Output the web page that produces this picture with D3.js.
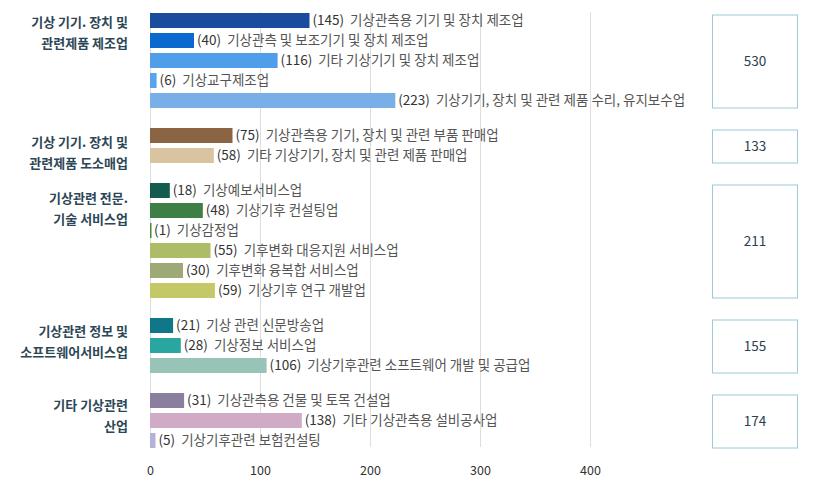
<!DOCTYPE html>
<html>
<head>
<meta charset="utf-8">
<script src="https://cdn.jsdelivr.net/npm/d3@7"></script>
<style>
  html, body { margin: 0; padding: 0; background: #fff; }
  svg { display: block; font-family: "Noto Sans CJK KR", "Noto Sans", sans-serif; }
</style>
</head>
<body>
<svg id="chart" width="820" height="490"></svg>
<script>
// ---- data ----
const groupNames = [
  ["기상 기기. 장치 및", "관련제품 제조업"],
  ["기상 기기. 장치 및", "관련제품 도소매업"],
  ["기상관련 전문.", "기술 서비스업"],
  ["기상관련 정보 및", "소프트웨어서비스업"],
  ["기타 기상관련", "산업"]
];
const groupTotals = [530, 133, 211, 155, 174];

const itemGroup = [0, 0, 0, 0, 0, 1, 1, 2, 2, 2, 2, 2, 2, 3, 3, 3, 4, 4, 4];
const itemNames = [
  "기상관측용 기기 및 장치 제조업",
  "기상관측 및 보조기기 및 장치 제조업",
  "기타 기상기기 및 장치 제조업",
  "기상교구제조업",
  "기상기기, 장치 및 관련 제품 수리, 유지보수업",
  "기상관측용 기기, 장치 및 관련 부품 판매업",
  "기타 기상기기, 장치 및 관련 제품 판매업",
  "기상예보서비스업",
  "기상기후 컨설팅업",
  "기상감정업",
  "기후변화 대응지원 서비스업",
  "기후변화 융복합 서비스업",
  "기상기후 연구 개발업",
  "기상 관련 신문방송업",
  "기상정보 서비스업",
  "기상기후관련 소프트웨어 개발 및 공급업",
  "기상관측용 건물 및 토목 건설업",
  "기타 기상관측용 설비공사업",
  "기상기후관련 보험컨설팅"
];
const itemValues = [145, 40, 116, 6, 223, 75, 58, 18, 48, 1, 55, 30, 59, 21, 28, 106, 31, 138, 5];
const itemColors = [
  "#1a4b9c", "#0a68cf", "#509ee9", "#5aa3ec", "#7aaee6",
  "#8b6444", "#d9c3a1",
  "#135a4f", "#3e7f46", "#4a8a32", "#adbc67", "#9eaa76", "#c4c866",
  "#0f7788", "#2aa6a0", "#97c4b6",
  "#8b7fa0", "#d0abc6", "#b3b3d9"
];
const xTicks = [0, 100, 200, 300, 400];

// ---- layout ----
const svg = d3.select("#chart");
const x = d3.scaleLinear().domain([0, 400]).range([150, 590]);
// slot position: each row 1 slot, extra 0.75 slot between groups
const pos = itemValues.map((v, i) => i + 0.75 * itemGroup[i]);
const y = d3.scaleLinear().domain([0, 1]).range([20.5, 40.5]);
const barH = 15;

// gridlines
svg.append("g").selectAll("line").data(xTicks).join("line")
  .attr("x1", d => x(d)).attr("x2", d => x(d))
  .attr("y1", 12).attr("y2", 447)
  .attr("stroke", "#dedede").attr("stroke-width", 1)
  .attr("shape-rendering", "crispEdges");

// axis
const axis = svg.append("g").attr("transform", "translate(0,461)")
  .call(d3.axisBottom(x).tickValues(xTicks).tickSize(0).tickPadding(5));
axis.select(".domain").remove();
axis.selectAll("text").attr("font-size", 12.5).attr("fill", "#333")
  .attr("font-family", "'Noto Sans CJK KR', sans-serif");

// bars
const rows = itemValues.map((v, i) => ({ v, i, name: itemNames[i], color: itemColors[i], p: pos[i] }));
svg.append("g").selectAll("rect").data(rows).join("rect")
  .attr("x", x(0))
  .attr("y", d => y(d.p) - barH / 2)
  .attr("width", d => Math.max(1.5, x(d.v) - x(0)))
  .attr("height", barH)
  .attr("fill", d => d.color);

// bar labels
const lbl = svg.append("g").selectAll("text").data(rows).join("text")
  .attr("x", d => x(d.v) + 3)
  .attr("y", d => y(d.p))
  .attr("dy", "0.36em")
  .attr("font-size", 13.5);
lbl.append("tspan").attr("fill", "#333").text(d => `(${d.v})`);
lbl.append("tspan").attr("fill", "#555").attr("dx", 6).text(d => d.name);

// group labels and totals
const labelDy = [1.5, 6.5, 7.5, 6, 5];
groupNames.forEach((lines, g) => {
  const idx = itemGroup.map((gg, i) => gg === g ? i : -1).filter(i => i >= 0);
  const first = idx[0], last = idx[idx.length - 1];
  const y0 = y(pos[first]) + labelDy[g];
  const t = svg.append("text")
    .attr("text-anchor", "end")
    .attr("font-size", 13)
    .attr("font-weight", "bold")
    .attr("fill", "#2d4756");
  lines.forEach((ln, k) => {
    t.append("tspan").attr("x", 128).attr("y", y0 + k * 21).attr("dy", "0.36em").text(ln);
  });

  const top = y(pos[first]) - 5.5, bot = y(pos[last]) + 7.5;
  svg.append("rect")
    .attr("x", 712.5).attr("y", top)
    .attr("width", 85).attr("height", bot - top)
    .attr("fill", "none").attr("stroke", "#9dcadb").attr("stroke-width", 1);
  svg.append("text")
    .attr("x", 755).attr("y", (top + bot) / 2).attr("dy", "0.36em")
    .attr("text-anchor", "middle").attr("font-size", 13.5).attr("fill", "#2c3e50")
    .text(groupTotals[g]);
});
</script>
</body>
</html>
